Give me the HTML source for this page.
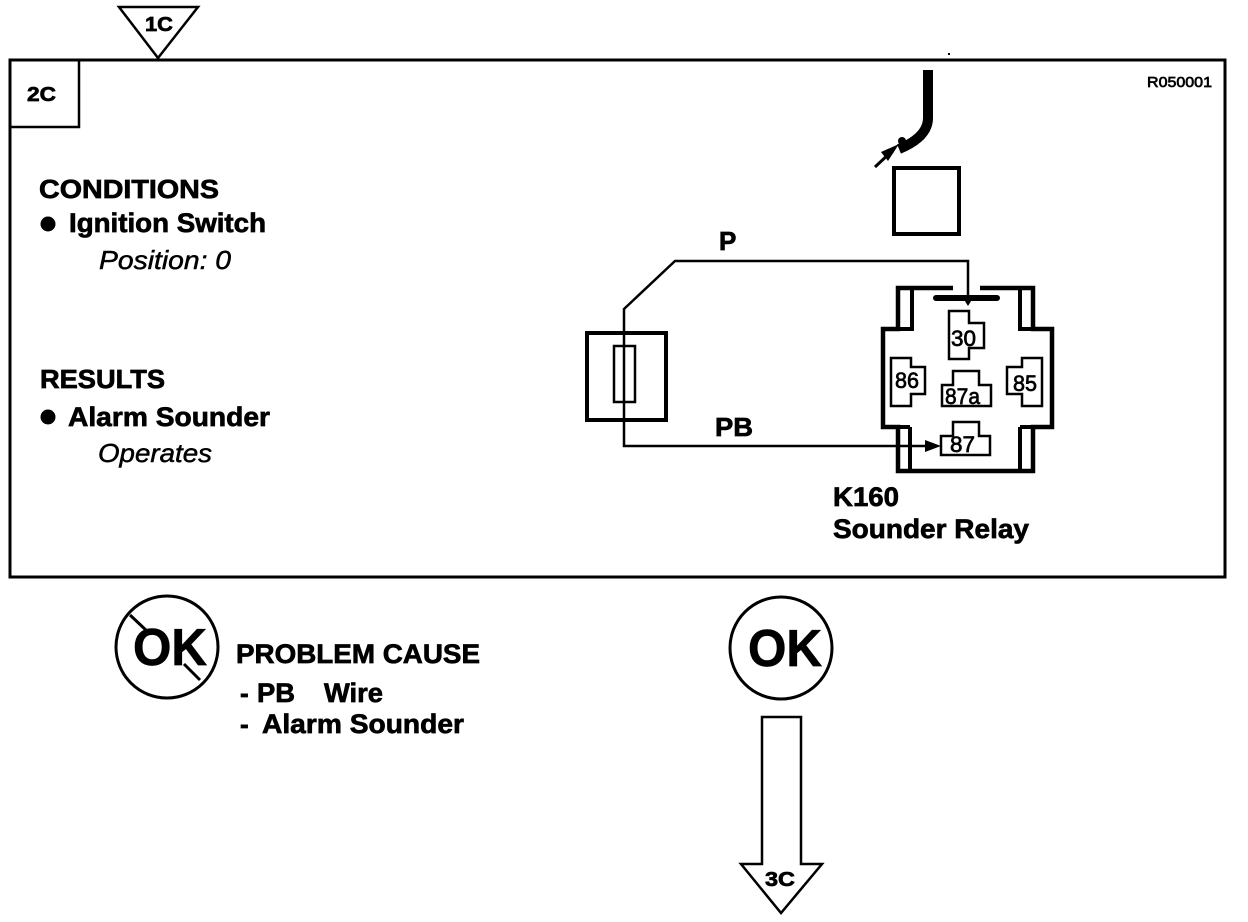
<!DOCTYPE html>
<html><head><meta charset="utf-8">
<style>
html,body{margin:0;padding:0;background:#fff;width:1248px;height:922px;overflow:hidden}
svg{display:block}
text{font-family:"Liberation Sans",sans-serif;fill:#000}
.b{font-weight:700;stroke:#000;stroke-width:.7px}
.i{font-style:italic;stroke:#000;stroke-width:.5px}
.t{stroke:#000;stroke-width:.7px}
</style></head><body>
<svg width="1248" height="922" viewBox="0 0 1248 922" xmlns="http://www.w3.org/2000/svg">
<g fill="none" stroke="#000">
<!-- frame -->
<rect x="10" y="60" width="1215" height="517" stroke-width="3"/>
<rect x="10" y="60" width="69" height="67" stroke-width="2.5"/>
<polygon points="119,7 198,7 158,58" fill="#fff" stroke-width="2.5"/>
<!-- cable -->
<path d="M928,70 V118 Q928,137 899,149" stroke-width="10"/>
<path d="M875,167 L892,151" stroke-width="3"/>
<polygon points="899,144 881,152 888,161" fill="#000" stroke="none"/>
<circle cx="902" cy="141" r="4" fill="#000" stroke="none"/>
<rect x="894" y="168" width="65" height="66" stroke-width="4"/>
<!-- fuse box -->
<rect x="587" y="333" width="79" height="87" stroke-width="4"/>
<rect x="614" y="346" width="21" height="56" stroke-width="2.5"/>
<!-- wires -->
<path d="M968,298 V261 H675 L624,309 V446 H928" stroke-width="2.5"/>
<polygon points="941,446 925,440 925,452" fill="#000" stroke="none"/>
<polygon points="968,306 963,298 973,298" fill="#000" stroke="none"/>
<!-- relay -->
<path d="M953,288 H898 V329 H883 V427 H898 V471 H1033 V427 H1052 V329 H1033 V288 H980" stroke-width="4.5"/>
<path d="M912,288 V329 H898 M1020,288 V329 H1033 M910,427 V471 M1020,427 V471 M898,427 H910 M1020,427 H1033" stroke-width="4"/>
<path d="M936,298 H997" stroke-width="6" stroke-linecap="round"/>
<path d="M949,311 H969 V323 H984 V348 H969 V359 H949 Z" stroke-width="2.5"/>
<path d="M891,358 H911 V367 H925 V394 H911 V406 H891 Z" stroke-width="2.5"/>
<path d="M1042,358 H1022 V367 H1007 V394 H1022 V406 H1042 Z" stroke-width="2.5"/>
<path d="M942,385 H953 V371 H979 V385 H991 V406 H942 Z" stroke-width="2.5"/>
<path d="M941,436 H953 V422 H979 V436 H990 V455 H941 Z" stroke-width="2.5"/>
<!-- OK circles -->
<circle cx="167" cy="647" r="51" stroke-width="3"/>
<path d="M130,615 L148,632 M184,664 L200,680" stroke-width="3"/>
<circle cx="781" cy="648" r="51" stroke-width="3"/>
<!-- arrow -->
<path d="M762,717 H801 V864 H822 L781,913 L741,864 H762 Z" stroke-width="2.5"/>
</g>
<circle cx="48" cy="224" r="7.5"/>
<circle cx="48" cy="417" r="7.5"/>
<rect x="948" y="53" width="2" height="2"/>

<text class="b" x="145" y="31" font-size="20" textLength="28" lengthAdjust="spacingAndGlyphs">1C</text>
<text class="b" x="27" y="101" font-size="20" textLength="29" lengthAdjust="spacingAndGlyphs">2C</text>
<text class="b" x="765" y="886" font-size="20" textLength="30" lengthAdjust="spacingAndGlyphs">3C</text>
<text x="1147" y="87" font-size="15" textLength="65" lengthAdjust="spacingAndGlyphs" class="t">R050001</text>

<text class="b" x="39" y="198" font-size="26" textLength="180" lengthAdjust="spacingAndGlyphs">CONDITIONS</text>
<text class="b" x="69" y="232" font-size="27" textLength="197" lengthAdjust="spacingAndGlyphs">Ignition Switch</text>
<text class="i" x="99" y="269" font-size="26" textLength="132" lengthAdjust="spacingAndGlyphs">Position: 0</text>
<text class="b" x="40" y="388" font-size="26" textLength="125" lengthAdjust="spacingAndGlyphs">RESULTS</text>
<text class="b" x="68" y="426" font-size="27" textLength="202" lengthAdjust="spacingAndGlyphs">Alarm Sounder</text>
<text class="i" x="98" y="462" font-size="26" textLength="114" lengthAdjust="spacingAndGlyphs">Operates</text>

<text class="b" x="719" y="250" font-size="26">P</text>
<text class="b" x="715" y="436" font-size="26" textLength="38" lengthAdjust="spacingAndGlyphs">PB</text>

<text class="t" x="951" y="346" font-size="22" textLength="25" lengthAdjust="spacingAndGlyphs">30</text>
<text class="t" x="895" y="388" font-size="22" textLength="24" lengthAdjust="spacingAndGlyphs">86</text>
<text class="t" x="1013" y="391" font-size="22" textLength="24" lengthAdjust="spacingAndGlyphs">85</text>
<text class="t" x="945" y="404" font-size="22" textLength="35" lengthAdjust="spacingAndGlyphs">87a</text>
<text class="t" x="950" y="452" font-size="22" textLength="25" lengthAdjust="spacingAndGlyphs">87</text>

<text class="b" x="833" y="506" font-size="27" textLength="66" lengthAdjust="spacingAndGlyphs">K160</text>
<text class="b" x="833" y="538" font-size="27" textLength="196" lengthAdjust="spacingAndGlyphs">Sounder Relay</text>

<text x="133" y="665" font-size="52" textLength="74" lengthAdjust="spacingAndGlyphs" class="b">OK</text>
<text x="748" y="666" font-size="52" textLength="74" lengthAdjust="spacingAndGlyphs" class="b">OK</text>

<text class="b" x="236" y="663" font-size="27" textLength="244" lengthAdjust="spacingAndGlyphs">PROBLEM CAUSE</text>
<text class="b" x="240" y="702" font-size="26">-</text>
<text class="b" x="257" y="702" font-size="27" textLength="38" lengthAdjust="spacingAndGlyphs">PB</text>
<text class="b" x="324" y="702" font-size="27" textLength="59" lengthAdjust="spacingAndGlyphs">Wire</text>
<text class="b" x="240" y="733" font-size="26">-</text>
<text class="b" x="262" y="733" font-size="27" textLength="202" lengthAdjust="spacingAndGlyphs">Alarm Sounder</text>
</svg>
</body></html>
